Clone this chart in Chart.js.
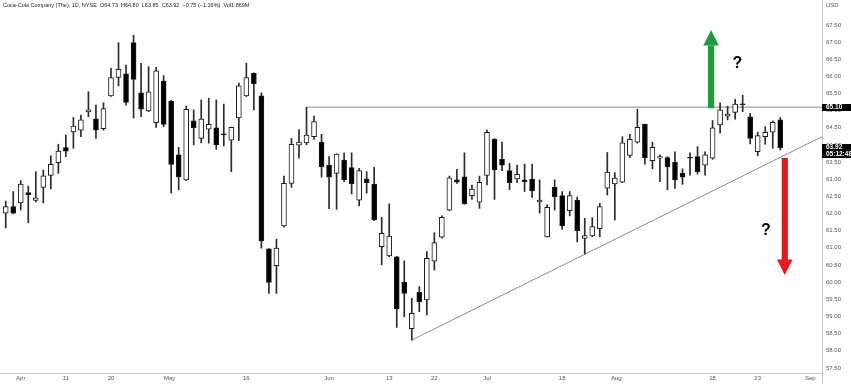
<!DOCTYPE html>
<html>
<head>
<meta charset="utf-8">
<script src="https://cdn.jsdelivr.net/npm/chart.js@4.4.0/dist/chart.umd.min.js"></script>
<style>
html,body{margin:0;padding:0;background:#fff;}
#wrap{position:relative;width:851px;height:384px;overflow:hidden;font-family:"Liberation Sans",Arial,sans-serif;}
canvas{position:absolute;left:0;top:0;}
.ov{position:absolute;white-space:nowrap;}
#title{left:3px;top:2px;font-size:5.5px;line-height:7px;color:#222;}
#usd{left:826px;top:2px;font-size:6px;line-height:7px;color:#555;}
.tag{left:822px;width:29px;background:#000;color:#fff;font-size:6.5px;font-weight:bold;padding-left:4px;box-sizing:border-box;line-height:6.8px;}
.q{font-size:16px;font-weight:bold;color:#000;line-height:16px;transform:translate(-50%,-50%);font-family:"Liberation Sans",Arial,sans-serif;}
</style>
</head>
<body>
<div id="wrap">
<canvas id="c" width="851" height="384"></canvas>
<div id="title" class="ov">Coca-Cola Company (The), 1D, NYSE&nbsp; O64.73&nbsp; H64.80&nbsp; L63.85&nbsp; C63.92&nbsp; −0.75 (−1.16%)&nbsp; Vol1.869M</div>
<div id="usd" class="ov">USD</div>
<div id="tagRes" class="ov tag">65.10</div>
<div id="tagLast" class="ov tag">63.92<br>05:12:48</div>
<div id="q1" class="ov q">?</div>
<div id="q2" class="ov q">?</div>
</div>
<script>
// ---- data (daily candles, index 0 = first visible session) ----
const opens = [62.01,62.20,62.31,62.61,62.38,62.76,63.11,63.48,63.92,64.38,
64.43,64.96,64.76,64.47,65.43,65.97,66.07,66.98,65.52,64.99,
64.65,65.86,65.28,63.71,62.98,64.70,64.19,64.46,64.50,64.32,
64.14,64.79,65.43,66.09,65.43,60.97,60.48,61.64,62.88,63.99,
64.06,64.24,64.08,63.41,63.17,63.56,63.34,62.39,63.00,62.86,
61.03,60.76,60.74,59.99,58.64,59.70,59.48,60.61,61.31,62.10,
62.98,63.07,62.52,62.33,63.11,64.17,63.58,63.25,63.01,62.98,
63.00,62.34,61.32,62.76,62.52,62.08,62.39,61.27,61.35,61.56,
62.74,62.86,62.91,63.69,64.08,64.60,63.54,63.61,63.63,63.50,
63.17,63.64,63.66,63.41,63.61,64.58,64.84,64.95,65.20,64.82,
63.80,64.24,64.37,64.73];
const highs = [62.36,62.64,62.96,62.80,63.22,63.27,63.68,64.02,64.29,64.80,
64.87,65.55,65.16,65.23,66.23,66.98,66.33,67.20,66.38,66.28,
66.26,66.02,65.30,63.93,65.13,65.02,65.31,65.36,65.31,65.19,
64.52,65.80,66.38,66.10,65.52,60.98,61.25,63.09,64.19,64.45,
65.10,64.84,64.31,63.66,63.74,63.76,63.77,63.32,63.22,63.35,
61.89,62.28,60.75,60.62,59.53,59.87,60.89,61.44,61.93,63.09,
63.29,63.77,62.83,63.09,64.43,64.18,64.08,63.46,63.41,63.44,
63.44,62.98,62.25,62.98,62.64,62.64,62.48,61.86,61.88,62.30,
63.78,63.19,64.24,64.31,65.04,64.61,64.08,63.71,63.66,63.80,
63.30,63.77,63.95,63.80,64.71,65.23,65.13,65.33,65.45,64.92,
64.37,64.53,64.70,64.80];
const lows = [61.58,61.99,62.10,61.73,62.34,62.31,62.72,63.17,63.66,63.90,
64.24,64.82,64.19,64.43,65.41,65.72,65.16,64.78,64.82,64.97,
64.51,64.53,62.59,62.69,62.96,64.00,64.06,64.05,63.87,63.97,
63.22,64.12,65.41,65.02,60.99,59.67,59.67,61.60,62.76,63.61,
64.00,64.16,63.06,62.14,62.12,62.93,62.57,62.22,62.59,61.79,
60.50,60.74,58.68,58.99,58.31,59.14,59.04,60.35,61.28,62.08,
62.88,62.27,62.41,62.15,62.83,62.41,63.25,62.69,62.90,62.64,
62.47,62.01,61.31,62.10,61.54,61.93,61.17,60.82,61.32,61.32,
62.54,61.81,62.90,63.63,64.05,63.44,63.30,62.93,62.69,62.73,
62.85,63.12,63.15,63.12,63.58,64.34,64.73,64.75,64.97,64.03,
63.68,64.02,63.90,63.85];
const closes = [62.20,62.01,62.86,62.55,62.46,63.10,63.43,63.82,63.82,64.55,
64.73,65.02,64.43,65.06,65.96,66.20,65.24,65.91,65.04,65.55,
66.16,64.60,63.43,63.07,65.04,64.50,64.75,64.60,64.00,64.29,
64.51,65.72,65.96,65.78,61.20,59.99,60.99,62.88,64.02,64.08,
64.29,64.68,63.36,63.06,63.73,62.98,62.86,63.25,62.90,61.81,
61.42,61.34,59.22,59.67,59.09,59.43,60.69,61.15,61.89,63.04,
62.91,62.28,62.71,62.91,64.37,63.27,63.41,62.90,63.14,62.93,
62.66,62.39,62.18,62.49,61.64,62.52,61.50,61.36,61.62,62.20,
63.21,63.03,64.06,64.16,64.51,63.63,63.93,63.66,63.36,62.98,
63.06,63.61,63.22,63.71,64.50,65.02,64.90,65.19,65.17,64.19,
64.27,64.37,64.66,63.92];

// x-axis tick labels (session index where each label sits)
const tickPos  = [2, 8, 14, 21.8, 32, 43, 51, 57, 64, 74, 81.2, 94, 100, 107];
const tickText = ['Apr','11','20','May','16','Jun','13','22','Jul','18','Aug','15','23','Sep'];
const yTickTop = 67.5;

// drawn levels
const resistanceX = [40, 108.55];
const resistanceY = [65.10, 65.10];
const trendX = [54, 108.55];
const trendY = [58.31, 64.24];

// arrows & question marks (index, price)
const arrowX = [93.8, 103.6];
const arrowFrom = [65.10, 63.62];
const arrowTo = [67.35, 60.21];
const arrowColor = ['#1f9a3e', '#e3191f'];
const questionX = [97.3, 101.1];
const questionY = [66.38, 61.52];
const lastPrice = 63.92;

const xMin = -0.76, xMax = 108.55, yMin = 57.35, yMax = 68.2245;

const idx = opens.map((_, i) => i);
const bodyData = idx.map(i => ({x: i, y: [opens[i], closes[i]]}));
const wickData = idx.map(i => ({x: i, y: [lows[i], highs[i]]}));
const bodyFill = idx.map(i => closes[i] >= opens[i] ? '#ffffff' : '#000000');

Chart.defaults.font.family = '"Liberation Sans", Arial, sans-serif';

const annotate = {
  id: 'annotate',
  afterDatasetsDraw(chart) {
    const {ctx, scales: {x, y}} = chart;
    arrowX.forEach((ax, k) => {
      const px = x.getPixelForValue(ax);
      const y0 = y.getPixelForValue(arrowFrom[k]);
      const y1 = y.getPixelForValue(arrowTo[k]);
      const dir = y1 < y0 ? -1 : 1;
      const head = 15.5, hw = 7.8, sw = 3.1;
      const base = y1 - dir * head;
      ctx.save();
      ctx.fillStyle = arrowColor[k];
      ctx.fillRect(px - sw, Math.min(y0, base), 2 * sw, Math.abs(base - y0) + 1);
      ctx.beginPath();
      ctx.moveTo(px, y1);
      ctx.lineTo(px - hw, base);
      ctx.lineTo(px + hw, base);
      ctx.closePath();
      ctx.fill();
      ctx.restore();
    });
  },
  afterDraw(chart) {
    const {ctx, chartArea} = chart;
    ctx.save();
    ctx.strokeStyle = '#c4c4c4';
    ctx.lineWidth = 1;
    ctx.beginPath();
    ctx.moveTo(Math.round(chartArea.right) + 0.5, 0);
    ctx.lineTo(Math.round(chartArea.right) + 0.5, chart.height);
    ctx.stroke();
    ctx.restore();
  },
  afterRender(chart) {
    const {scales: {x, y}} = chart;
    const r = document.getElementById('tagRes');
    r.style.top = (y.getPixelForValue(resistanceY[0]) - 3.6) + 'px';
    r.style.height = '7.2px';
    const l = document.getElementById('tagLast');
    l.style.top = (y.getPixelForValue(lastPrice) - 3.6) + 'px';
    l.style.height = '13.6px';
    ['q1', 'q2'].forEach((id, k) => {
      const el = document.getElementById(id);
      el.style.left = x.getPixelForValue(questionX[k]) + 'px';
      el.style.top = y.getPixelForValue(questionY[k]) + 'px';
    });
  }
};

new Chart(document.getElementById('c'), {
  type: 'bar',
  data: {
    datasets: [
      {
        type: 'line', data: resistanceX.map((v, i) => ({x: v, y: resistanceY[i]})),
        borderColor: '#8a8a8a', borderWidth: 1, pointRadius: 0, fill: false, order: 3
      },
      {
        type: 'line', data: trendX.map((v, i) => ({x: v, y: trendY[i]})),
        borderColor: '#8a8a8a', borderWidth: 1, pointRadius: 0, fill: false, order: 3
      },
      {
        label: 'wick', data: wickData, backgroundColor: '#2a2a2a', borderWidth: 0,
        barThickness: 1, grouped: false, order: 2
      },
      {
        label: 'body', data: bodyData, backgroundColor: bodyFill, borderColor: '#1a1a1a',
        borderWidth: 1, borderSkipped: false, barThickness: 5, grouped: false, order: 1
      }
    ]
  },
  options: {
    responsive: false,
    devicePixelRatio: 1,
    animation: false,
    events: [],
    layout: {padding: 0},
    plugins: {legend: {display: false}, tooltip: {enabled: false}},
    scales: {
      x: {
        type: 'linear', min: xMin, max: xMax, offset: false,
        grid: {display: false, drawTicks: false},
        border: {display: true, color: '#c4c4c4'},
        afterBuildTicks(scale) { scale.ticks = tickPos.map(v => ({value: v})); },
        afterFit(scale) { scale.height = 11; scale.paddingLeft = 0; scale.paddingRight = 0; },
        ticks: {
          autoSkip: false, maxRotation: 0, minRotation: 0, padding: 2,
          color: '#555', font: {size: 6},
          callback: (v, i) => tickText[i]
        }
      },
      y: {
        type: 'linear', position: 'right', min: yMin, max: yMax,
        grid: {display: false, drawTicks: false},
        border: {display: false},
        afterBuildTicks(scale) { scale.ticks = scale.ticks.filter(t => t.value <= yTickTop + 1e-9); },
        afterFit(scale) { scale.width = 29; scale.paddingTop = 0; scale.paddingBottom = 0; },
        ticks: {
          stepSize: 0.5, includeBounds: false, padding: 4,
          color: '#555', font: {size: 6},
          callback: v => v.toFixed(2)
        }
      }
    }
  },
  plugins: [annotate]
});
</script>
</body>
</html>
